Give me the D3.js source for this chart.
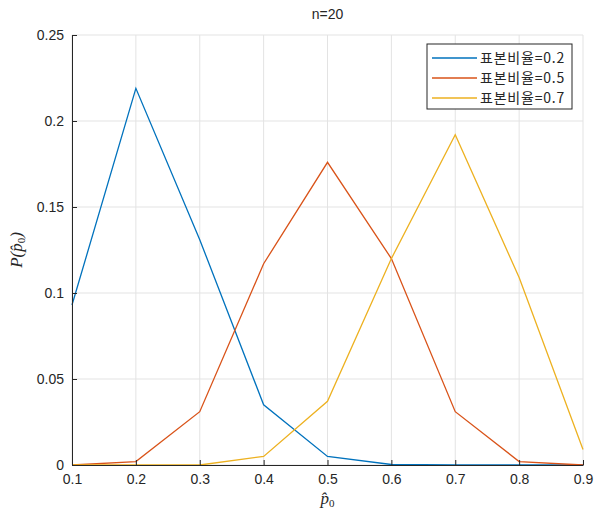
<!DOCTYPE html>
<meta charset="utf-8">
<head>
  <script src="https://d3js.org/d3.v7.min.js"></script>
  <style>
    body { margin: 0; background: white; }
    text { font-family: "Liberation Sans", Arial, sans-serif; fill: #262626; }
  </style>
</head>
<body>
  <div id="chart"></div>
  <script>
    var xValues = [0.1, 0.2, 0.3, 0.4, 0.5, 0.6, 0.7, 0.8, 0.9];
    var seriesNames = ["표본비율=0.2", "표본비율=0.5", "표본비율=0.7"];
    var p02 = [0.093, 0.219, 0.131, 0.035, 0.005, 0.0003, 0, 0, 0];
    var p05 = [0, 0.002, 0.031, 0.117, 0.176, 0.12, 0.031, 0.002, 0];
    var p07 = [0, 0, 0, 0.005, 0.037, 0.12, 0.192, 0.109, 0.009];
    var xTicks = [0.1, 0.2, 0.3, 0.4, 0.5, 0.6, 0.7, 0.8, 0.9];
    var yTicks = [0, 0.05, 0.1, 0.15, 0.2, 0.25];
    var colors = ["#0072BD", "#D95319", "#EDB120"];

    var margin = { top: 35, right: 12, bottom: 53, left: 72 },
      width = 595 - margin.left - margin.right,
      height = 518 - margin.top - margin.bottom;

    var svg = d3.select("#chart")
      .append("svg")
      .attr("width", 595)
      .attr("height", 518);

    var g = svg.append("g")
      .attr("transform", "translate(" + margin.left + "," + margin.top + ")");

    var x = d3.scaleLinear().domain([0.1, 0.9]).range([0, width]);
    var y = d3.scaleLinear().domain([0, 0.25]).range([height, 0]);

    // grid
    g.append("g").selectAll("line").data(xTicks).enter().append("line")
      .attr("x1", d => x(d)).attr("x2", d => x(d))
      .attr("y1", 0).attr("y2", height)
      .attr("stroke", "#e3e3e3");
    g.append("g").selectAll("line").data(yTicks).enter().append("line")
      .attr("x1", 0).attr("x2", width)
      .attr("y1", d => y(d)).attr("y2", d => y(d))
      .attr("stroke", "#e3e3e3");

    // lines
    var series = [p02, p05, p07];
    var line = d3.line()
      .x((d, i) => x(xValues[i]))
      .y(d => y(d));
    series.forEach(function (s, k) {
      g.append("path")
        .datum(s)
        .attr("d", line)
        .attr("fill", "none")
        .attr("stroke", colors[k])
        .attr("stroke-width", 1.3);
    });

    // axes (ticks inward like MATLAB)
    var xAxis = g.append("g")
      .attr("transform", "translate(0," + height + ")")
      .call(d3.axisBottom(x).tickValues(xTicks).tickSizeInner(-5).tickSizeOuter(0).tickPadding(9)
        .tickFormat(d3.format("")));
    var yAxis = g.append("g")
      .call(d3.axisLeft(y).tickValues(yTicks).tickSizeInner(-5).tickSizeOuter(0).tickPadding(8)
        .tickFormat(d => d === 0 ? "0" : d3.format("")(+d.toFixed(2))));
    [xAxis, yAxis].forEach(function (a) {
      a.selectAll("path").attr("stroke", "#262626");
      a.selectAll("line").attr("stroke", "#262626");
      a.selectAll("text").style("font-size", "14px").style("fill", "#262626")
        .style("font-family", "'Liberation Sans', Arial, sans-serif");
    });

    // title
    svg.append("text")
      .attr("x", margin.left + width / 2)
      .attr("y", 19)
      .attr("text-anchor", "middle")
      .style("font-size", "14px")
      .text("n=20");

    // x label
    var xl = svg.append("text")
      .attr("x", margin.left + width / 2)
      .attr("y", 504)
      .attr("text-anchor", "middle")
      .style("font-family", "'Liberation Serif', serif")
      .style("font-style", "italic")
      .style("font-size", "17px");
    xl.append("tspan").text("p\u0302");
    xl.append("tspan").attr("dy", 3).style("font-size", "11px").style("font-style", "normal").text("0");

    // y label
    var yl = svg.append("text")
      .attr("transform", "translate(22," + (margin.top + height / 2) + ") rotate(-90)")
      .attr("text-anchor", "middle")
      .style("font-family", "'Liberation Serif', serif")
      .style("font-style", "italic")
      .style("font-size", "17px");
    yl.append("tspan").text("P(p\u0302");
    yl.append("tspan").attr("dy", 3).style("font-size", "11px").style("font-style", "normal").text("0");
    yl.append("tspan").attr("dy", -3).text(")");

    // legend
    var lg = svg.append("g").attr("transform", "translate(427,44)");
    lg.append("rect")
      .attr("width", 145).attr("height", 65)
      .attr("fill", "white").attr("stroke", "#262626").attr("stroke-width", 1);
    seriesNames.forEach(function (name, k) {
      var yy = 14 + k * 20;
      lg.append("line")
        .attr("x1", 5).attr("x2", 50)
        .attr("y1", yy).attr("y2", yy)
        .attr("stroke", colors[k]).attr("stroke-width", 1.3);
      lg.append("text")
        .attr("x", 53).attr("y", yy + 5)
        .style("font-size", "14px")
        .style("letter-spacing", "0.8px")
        .style("font-family", "'Noto Sans CJK KR', 'Liberation Sans', sans-serif")
        .text(name);
    });
  </script>
</body>
</html>
